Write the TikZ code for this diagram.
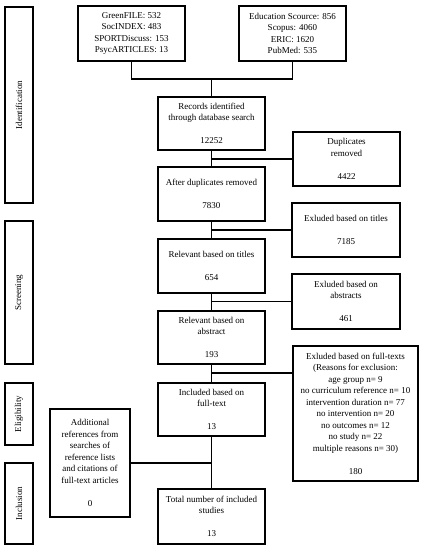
\documentclass[tikz,border=0pt]{standalone}
\usepackage{fontspec}
\setmainfont{Liberation Serif}
\begin{document}
\begin{tikzpicture}[x=1pt,y=-1pt,
  box/.style={draw, line width=1.2pt, align=center, inner sep=0pt,
    font=\fontsize{9}{11.5}\selectfont},
  side/.style={box, rotate=90, minimum height=28pt},
  conn/.style={line width=1.2pt}]
\useasboundingbox (0,0) rectangle (423,550);
% side bars
\node[side, minimum width=196pt] (sid) at (19,105) {Identification};
\node[side, minimum width=143pt] (ssc) at (19,292.5) {Screening};
\node[side, minimum width=62pt] (sel) at (19,414) {Eligibility};
\node[side, minimum width=81pt] (sin) at (19,503.5) {Inclusion};
% top sources
\node[box, minimum width=107pt, minimum height=55pt] (gf) at (131.5,33.5)
  {GreenFILE: 532\\SocINDEX: 483\\SPORTDiscuss: 153\\PsycARTICLES: 13};
\node[box, minimum width=107pt, minimum height=55pt] (edu) at (292.5,33.5)
  {Education Scource: 856\\Scopus: 4060\\ERIC: 1620\\PubMed: 535};
% main column
\node[box, minimum width=107pt, minimum height=53pt] (rec) at (211.5,123.5)
  {Records identified\\through database search\\[11.5pt]12252};
\node[box, minimum width=107pt, minimum height=54pt] (aft) at (211.5,194)
  {After duplicates removed\\[11.5pt]7830};
\node[box, minimum width=107pt, minimum height=54pt] (rti) at (211.5,266)
  {Relevant based on titles\\[11.5pt]654};
\node[box, minimum width=107pt, minimum height=53pt] (rab) at (211.5,337.5)
  {Relevant based on\\abstract\\[11.5pt]193};
\node[box, minimum width=107pt, minimum height=53pt] (inc) at (211.5,409.5)
  {Included based on\\full-text\\[11.5pt]13};
\node[box, minimum width=107pt, minimum height=55pt] (tot) at (211.5,516.5)
  {Total number of included\\studies\\[11.5pt]13};
% right column
\node[box, minimum width=107pt, minimum height=54pt] (dup) at (346.5,159)
  {Duplicates\\removed\\[11.5pt]4422};
\node[box, minimum width=108pt, minimum height=54pt] (eti) at (346,230)
  {Exluded based on titles\\[11.5pt]7185};
\node[box, minimum width=108pt, minimum height=55pt] (eab) at (346,301.5)
  {Exluded based on\\abstracts\\[11.5pt]461};
\node[box, minimum width=125pt, minimum height=135pt] (eft) at (355.5,413.5)
  {Exluded based on full-texts\\(Reasons for exclusion:\\age group n= 9\\no curriculum reference n= 10\\intervention duration n= 77\\no intervention n= 20\\no outcomes n= 12\\no study n= 22\\multiple reasons n= 30)\\[11.5pt]180};
% left additional
\node[box, minimum width=80pt, minimum height=108pt] (add) at (90,463)
  {Additional\\references from\\searches of\\reference lists\\and citations of\\full-text articles\\[11.5pt]0};
% connectors
\coordinate (j1) at (211.5,79);
\draw[conn] (gf.south) |- (j1) -| (edu.south);
\draw[conn] (j1) -- (rec.north);
\draw[conn] (rec.south) -- (aft.north);
\draw[conn] (dup.west) -- (dup.west -| rec.south);
\draw[conn] (aft.south) -- (rti.north);
\draw[conn] (eti.west) -- (eti.west -| aft.south);
\draw[conn] (rti.south) -- (rab.north);
\draw[conn] (eab.west) -- (eab.west -| rti.south);
\draw[conn] (rab.south) -- (inc.north);
\coordinate (j4) at (211.5,373);
\draw[conn] (j4) -- (j4 -| eft.west);
\draw[conn] (inc.south) -- (tot.north);
\draw[conn] (add.east) -- (add.east -| inc.south);
\end{tikzpicture}
\end{document}
